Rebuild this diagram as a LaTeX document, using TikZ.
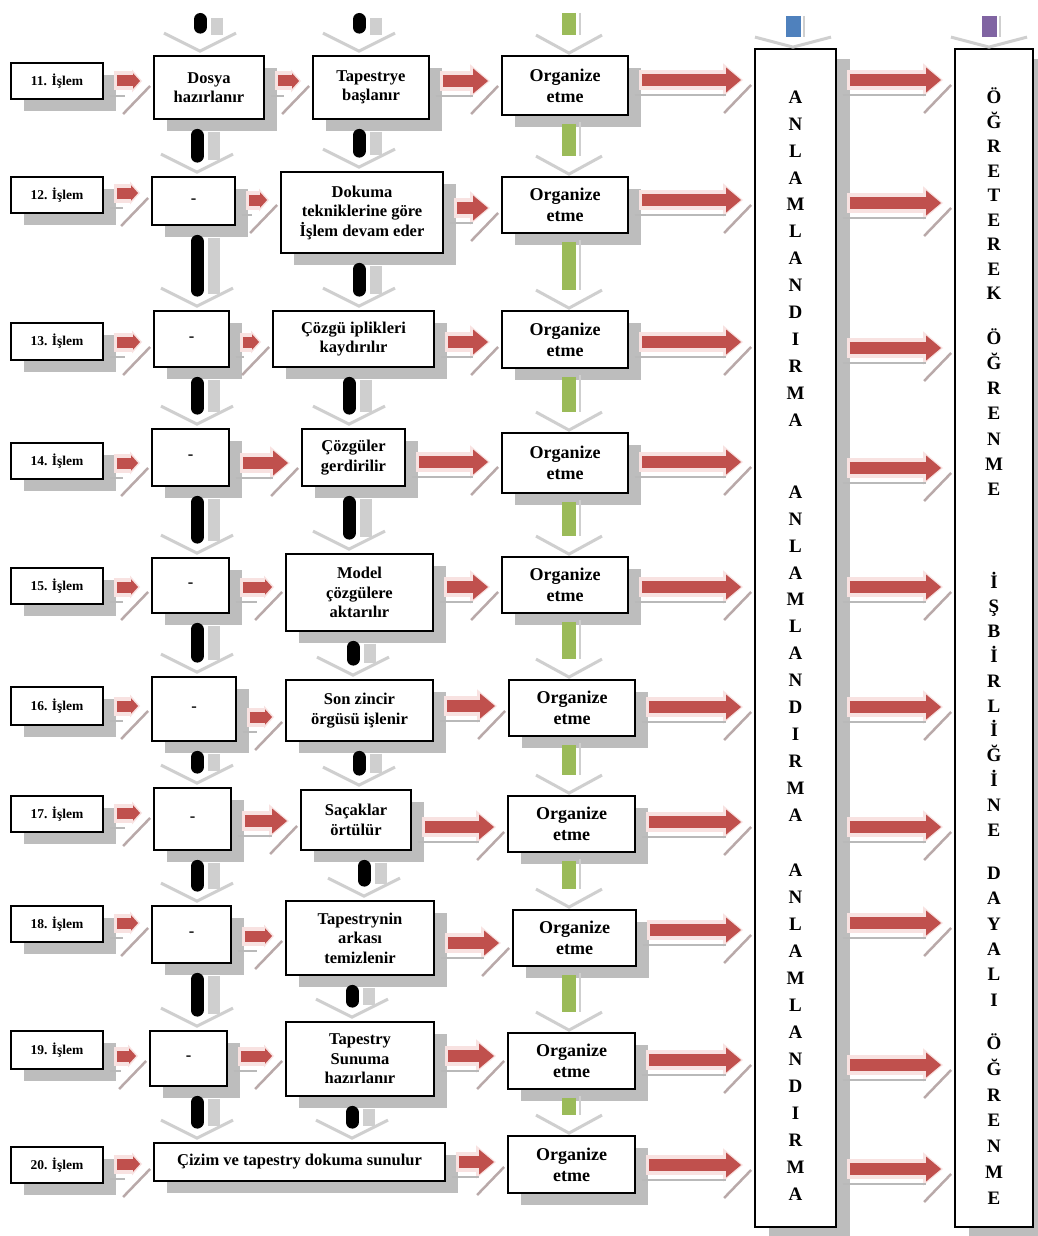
\documentclass[tikz,border=0pt]{standalone}
\usepackage{fontspec}
\setmainfont{Liberation Serif}
\usetikzlibrary{arrows.meta,shadows}
\definecolor{ared}{HTML}{C0504D}
\definecolor{ahalo}{HTML}{F8E2E1}
\definecolor{agreen}{HTML}{9BBB59}
\definecolor{ablue}{HTML}{4F81BD}
\definecolor{apurple}{HTML}{8064A2}
\definecolor{shgray}{HTML}{BDBDBD}
\definecolor{ltgray}{HTML}{CFCFCF}
\definecolor{slgray}{HTML}{B9A9A9}
\tikzset{
  box/.style={draw=black, line width=1.8pt, fill=white, inner sep=0pt, align=center,
    general shadow={fill=shgray, shadow xshift=13pt, shadow yshift=-12pt},
    font=\bfseries\fontsize{16.5}{19.5}\selectfont},
  lab/.style={box, font=\bfseries\fontsize{13.5}{16}\selectfont},
  org/.style={box, font=\bfseries\fontsize{18}{21}\selectfont},
  col/.style={draw=black, line width=1.8pt, fill=white, inner sep=0pt,
    general shadow={fill=shgray, shadow xshift=14pt, shadow yshift=-10pt}},
  vt/.style={align=center, inner sep=0pt},
  rarr/.style={draw=ared, line width=12pt, -{Triangle[length=15pt,width=24pt]}},
  rarrs/.style={draw=ared, line width=11pt, -{Triangle[length=7pt,width=15pt]}},
  halo/.style={draw=ahalo, line width=20pt, -{Triangle[length=20pt,width=32pt]}},
  halos/.style={draw=ahalo, line width=19pt, -{Triangle[length=10pt,width=22pt]}},
  gline/.style={draw=gray!55, line width=2pt},
  slash/.style={draw=slgray, line width=2.5pt},
  bshaft/.style={draw=black, line width=13pt, line cap=round},
  bshadow/.style={draw=ltgray, line width=12pt},
  chev/.style={draw=ltgray, line width=3pt},
  gshaft/.style={draw=agreen, line width=14pt},
  gshadow/.style={draw=ltgray, line width=2pt},
}
\newcommand\mkbox[7][box]{%
  \pgfmathsetmacro\bxw{#5-#3}%
  \pgfmathsetmacro\bxh{#6-#4}%
  \pgfmathsetmacro\bxcx{(#3+#5)/2}%
  \pgfmathsetmacro\bxcy{(#4+#6)/2}%
  \node[#1, minimum width=\bxw pt, minimum height=\bxh pt] (#2) at (\bxcx,\bxcy) {#7};}
\newcommand\redarr[4][]{%
  \coordinate (yy) at (0,#4);
  \draw[halo#1] ([xshift=10pt]#2.east |- yy) -- ([xshift=-11pt]#3.west |- yy);
  \draw[gline] ([xshift=6pt,yshift=-15pt]#2.east |- yy) -- ([xshift=-28pt,yshift=-15pt]#3.west |- yy);
  \draw[slash] ([xshift=-30pt,yshift=-33pt]#3.west |- yy) -- ([xshift=-3pt,yshift=-5pt]#3.west |- yy);
  \draw[rarr#1] ([xshift=13pt]#2.east |- yy) -- ([xshift=-13pt]#3.west |- yy);}
\newcommand\blkarr[3]{%
  \draw[bshadow] ([xshift=17pt,yshift=-12pt]#1.south -| #3) -- ([xshift=17pt,yshift=16pt]#2.north -| #3);
  \draw[chev] ([xshift=-36pt,yshift=22pt]#2.north -| #3) -- ([yshift=4pt]#2.north -| #3) -- ([xshift=36pt,yshift=22pt]#2.north -| #3);
  \draw[bshaft] ([yshift=-15.5pt]#1.south -| #3) -- ([yshift=20pt]#2.north -| #3);}
\newcommand\blktop[2]{%
  \draw[bshadow] ([xshift=17pt,yshift=-5pt]#1) -- ([xshift=17pt,yshift=20pt]#2.north -| #1);
  \draw[chev] ([xshift=-36pt,yshift=22pt]#2.north -| #1) -- ([yshift=4pt]#2.north -| #1) -- ([xshift=36pt,yshift=22pt]#2.north -| #1);
  \draw[bshaft] ([yshift=-6.5pt]#1) -- ([yshift=28pt]#2.north -| #1);}
\newcommand\grnarr[3]{%
  \draw[gshadow] ([xshift=11pt,yshift=-6pt]#1.south -| #3) -- ([xshift=11pt,yshift=20pt]#2.north -| #3);
  \draw[chev] ([xshift=-33pt,yshift=20pt]#2.north -| #3) -- ([yshift=2pt]#2.north -| #3) -- ([xshift=33pt,yshift=20pt]#2.north -| #3);
  \draw[gshaft] ([yshift=-8pt]#1.south -| #3) -- ([yshift=20pt]#2.north -| #3);}
\newcommand\grntop[2]{%
  \draw[gshadow] ([xshift=11pt]#1) -- ([xshift=11pt,yshift=20pt]#2.north -| #1);
  \draw[chev] ([xshift=-33pt,yshift=20pt]#2.north -| #1) -- ([yshift=2pt]#2.north -| #1) -- ([xshift=33pt,yshift=20pt]#2.north -| #1);
  \draw[gshaft] (#1) -- ([yshift=20pt]#2.north -| #1);}
\begin{document}
\begin{tikzpicture}[x=1pt,y=-1pt]
\useasboundingbox[fill=white] (0,0) rectangle (1037,1236);
% big columns
\mkbox[col]{AN}{755}{49}{836}{1227}{}
\mkbox[col]{OG}{955}{49}{1033}{1227}{}
\node[vt, font=\bfseries\fontsize{19}{26.9}\selectfont] (an1) at (795.5,258.5) {A\\N\\L\\A\\M\\L\\A\\N\\D\\I\\R\\M\\A};
\node[vt, font=\bfseries\fontsize{19}{26.9}\selectfont] (an2) at (795.5,653.5) {A\\N\\L\\A\\M\\L\\A\\N\\D\\I\\R\\M\\A};
\node[vt, font=\bfseries\fontsize{19}{27}\selectfont] (an3) at (795.5,1032) {A\\N\\L\\A\\M\\L\\A\\N\\D\\I\\R\\M\\A};
\node[vt, font=\bfseries\fontsize{19}{24.5}\selectfont] (og1) at (994,194) {Ö\\Ğ\\R\\E\\T\\E\\R\\E\\K};
\node[vt, font=\bfseries\fontsize{19}{25.3}\selectfont] (og2) at (994,412) {Ö\\Ğ\\R\\E\\N\\M\\E};
\node[vt, font=\bfseries\fontsize{19}{24.8}\selectfont] (og3) at (994,704) {İ\\Ş\\B\\İ\\R\\L\\İ\\Ğ\\İ\\N\\E};
\node[vt, font=\bfseries\fontsize{19}{25.4}\selectfont] (og4) at (994,936.5) {D\\A\\Y\\A\\L\\I};
\node[vt, font=\bfseries\fontsize{19}{25.7}\selectfont] (og5) at (994,1119) {Ö\\Ğ\\R\\E\\N\\M\\E};
% labels
\mkbox[lab]{l11}{11}{63}{103}{99}{11. İşlem}
\mkbox[lab]{l12}{11}{177}{103}{213}{12. İşlem}
\mkbox[lab]{l13}{11}{323}{103}{360}{13. İşlem}
\mkbox[lab]{l14}{11}{443}{103}{479}{14. İşlem}
\mkbox[lab]{l15}{11}{568}{103}{604}{15. İşlem}
\mkbox[lab]{l16}{11}{687}{103}{725}{16. İşlem}
\mkbox[lab]{l17}{11}{796}{103}{832}{17. İşlem}
\mkbox[lab]{l18}{11}{906}{103}{942}{18. İşlem}
\mkbox[lab]{l19}{11}{1031}{103}{1069}{19. İşlem}
\mkbox[lab]{l20}{11}{1147}{103}{1183}{20. İşlem}
% column 2
\mkbox{a11}{154}{56}{264}{119}{Dosya\\hazırlanır}
\mkbox{a12}{152}{177}{235}{225}{-}
\mkbox{a13}{154}{311}{229}{367}{-}
\mkbox{a14}{152}{429}{229}{486}{-}
\mkbox{a15}{152}{558}{229}{613}{-}
\mkbox{a16}{152}{677}{236}{741}{-}
\mkbox{a17}{154}{788}{231}{850}{-}
\mkbox{a18}{152}{906}{231}{963}{-}
\mkbox{a19}{150}{1031}{227}{1086}{-}
\mkbox{a20}{154}{1143}{445}{1181}{Çizim ve tapestry dokuma sunulur}
% column 3
\mkbox{b11}{313}{56}{429}{119}{Tapestrye\\başlanır}
\mkbox{b12}{281}{172}{443}{253}{Dokuma\\tekniklerine göre\\İşlem devam eder}
\mkbox{b13}{273}{311}{434}{367}{Çözgü iplikleri\\kaydırılır}
\mkbox{b14}{302}{429}{405}{486}{Çözgüler\\gerdirilir}
\mkbox{b15}{286}{554}{433}{631}{Model\\çözgülere\\aktarılır}
\mkbox{b16}{286}{680}{433}{741}{Son zincir\\örgüsü işlenir}
\mkbox{b17}{301}{790}{411}{850}{Saçaklar\\örtülür}
\mkbox{b18}{286}{901}{434}{975}{Tapestrynin\\arkası\\temizlenir}
\mkbox{b19}{286}{1022}{434}{1096}{Tapestry\\Sunuma\\hazırlanır}
% organize
\mkbox[org]{o11}{502}{56}{628}{115}{Organize\\etme}
\mkbox[org]{o12}{502}{177}{628}{233}{Organize\\etme}
\mkbox[org]{o13}{502}{311}{628}{368}{Organize\\etme}
\mkbox[org]{o14}{502}{433}{628}{493}{Organize\\etme}
\mkbox[org]{o15}{502}{557}{628}{613}{Organize\\etme}
\mkbox[org]{o16}{509}{680}{635}{736}{Organize\\etme}
\mkbox[org]{o17}{508}{796}{635}{852}{Organize\\etme}
\mkbox[org]{o18}{513}{910}{636}{966}{Organize\\etme}
\mkbox[org]{o19}{508}{1033}{635}{1089}{Organize\\etme}
\mkbox[org]{o20}{508}{1136}{635}{1193}{Organize\\etme}
% x positions for vertical arrows
\coordinate (X2) at (197,0);
\coordinate (X3a) at (359,0);
\coordinate (X3b) at (349,0);
\coordinate (X3c) at (353,0);
\coordinate (X3d) at (364,0);
\coordinate (X3e) at (352,0);
\coordinate (XG) at (569,0);
\coordinate (T2) at (200,13);
\coordinate (T3) at (359,13);
\coordinate (TG) at (569,13);
% black arrows column 2
\blktop{T2}{a11}
\blkarr{a11}{a12}{X2}
\blkarr{a12}{a13}{X2}
\blkarr{a13}{a14}{X2}
\blkarr{a14}{a15}{X2}
\blkarr{a15}{a16}{X2}
\blkarr{a16}{a17}{X2}
\blkarr{a17}{a18}{X2}
\blkarr{a18}{a19}{X2}
\blkarr{a19}{a20}{X2}
% black arrows column 3
\blktop{T3}{b11}
\blkarr{b11}{b12}{X3a}
\blkarr{b12}{b13}{X3a}
\blkarr{b13}{b14}{X3b}
\blkarr{b14}{b15}{X3b}
\blkarr{b15}{b16}{X3c}
\blkarr{b16}{b17}{X3a}
\blkarr{b17}{b18}{X3d}
\blkarr{b18}{b19}{X3e}
\blkarr{b19}{a20}{X3e}
% green arrows
\grntop{TG}{o11}
\grnarr{o11}{o12}{XG}
\grnarr{o12}{o13}{XG}
\grnarr{o13}{o14}{XG}
\grnarr{o14}{o15}{XG}
\grnarr{o15}{o16}{XG}
\grnarr{o16}{o17}{XG}
\grnarr{o17}{o18}{XG}
\grnarr{o18}{o19}{XG}
\grnarr{o19}{o20}{XG}
% blue and purple
\coordinate (TB) at (793,16);
\coordinate (TP) at (989,16);
\draw[draw=ltgray, line width=2pt] ([xshift=11pt]TB) -- ([xshift=11pt,yshift=11pt]AN.north -| TB);
\draw[chev] ([xshift=-38pt,yshift=11pt]AN.north -| TB) -- ([yshift=1pt]AN.north -| TB) -- ([xshift=38pt,yshift=11pt]AN.north -| TB);
\draw[draw=ablue, line width=15pt] (TB) -- ([yshift=11pt]AN.north -| TB);
\draw[draw=ltgray, line width=2pt] ([xshift=11pt]TP) -- ([xshift=11pt,yshift=11pt]OG.north -| TP);
\draw[chev] ([xshift=-38pt,yshift=11pt]OG.north -| TP) -- ([yshift=1pt]OG.north -| TP) -- ([xshift=38pt,yshift=11pt]OG.north -| TP);
\draw[draw=apurple, line width=15pt] (TP) -- ([yshift=11pt]OG.north -| TP);
% red arrows
\redarr[s]{l11}{a11}{81} \redarr[s]{a11}{b11}{81} \redarr{b11}{o11}{81} \redarr{o11}{AN}{80} \redarr{AN}{OG}{80}
\redarr[s]{l12}{a12}{193} \redarr[s]{a12}{b12}{200} \redarr{b12}{o12}{208} \redarr{o12}{AN}{200} \redarr{AN}{OG}{203}
\redarr[s]{l13}{a13}{342} \redarr[s]{a13}{b13}{342} \redarr{b13}{o13}{342} \redarr{o13}{AN}{342} \redarr{AN}{OG}{348}
\redarr[s]{l14}{a14}{463} \redarr{a14}{b14}{463} \redarr{b14}{o14}{462} \redarr{o14}{AN}{462} \redarr{AN}{OG}{468}
\redarr[s]{l15}{a15}{587} \redarr[s]{a15}{b15}{587} \redarr{b15}{o15}{587} \redarr{o15}{AN}{587} \redarr{AN}{OG}{587}
\redarr[s]{l16}{a16}{706} \redarr[s]{a16}{b16}{717} \redarr{b16}{o16}{706} \redarr{o16}{AN}{707} \redarr{AN}{OG}{707}
\redarr[s]{l17}{a17}{813} \redarr{a17}{b17}{821} \redarr{b17}{o17}{827} \redarr{o17}{AN}{822} \redarr{AN}{OG}{827}
\redarr[s]{l18}{a18}{923} \redarr[s]{a18}{b18}{936} \redarr{b18}{o18}{943} \redarr{o18}{AN}{930} \redarr{AN}{OG}{923}
\redarr[s]{l19}{a19}{1056} \redarr[s]{a19}{b19}{1056} \redarr{b19}{o19}{1056} \redarr{o19}{AN}{1060} \redarr{AN}{OG}{1065}
\redarr[s]{l20}{a20}{1164} \redarr{a20}{o20}{1162} \redarr{o20}{AN}{1165} \redarr{AN}{OG}{1169}
\end{tikzpicture}
\end{document}
